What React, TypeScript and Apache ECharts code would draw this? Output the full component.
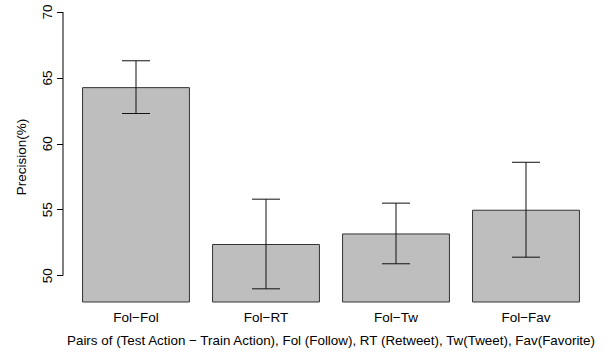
import React, { useEffect, useRef } from "react";
import * as echarts from "echarts";

const categories = ["Fol−Fol", "Fol−RT", "Fol−Tw", "Fol−Fav"];
const precision = [64.3, 52.4, 53.2, 55.0];
const errLow = [62.3, 49.0, 50.9, 51.4];
const errHigh = [66.3, 55.8, 55.5, 58.6];
const yTicks = [50, 55, 60, 65, 70];

const FONT = "'Liberation Sans', Arial, Helvetica, sans-serif";
const FS = 13.5;
const GRID_LEFT = 71;
const AXIS_OFFSET = 8;

export default function App() {
  const ref = useRef<HTMLDivElement>(null);
  useEffect(() => {
    if (!ref.current) return;
    const chart = echarts.init(ref.current, undefined, { renderer: "svg" });
    const errData = categories.map((_, i) => [i, errLow[i], errHigh[i]]);
    chart.setOption({
      animation: false,
      backgroundColor: "#ffffff",
      textStyle: { fontFamily: FONT },
      grid: { left: GRID_LEFT, right: 24, top: 12, bottom: 49.6 },
      xAxis: {
        type: "category",
        data: categories,
        axisLine: { show: false },
        axisTick: { show: false },
        axisLabel: { color: "#000", fontSize: FS, margin: 8, fontFamily: FONT },
        name: "Pairs of (Test Action − Train Action), Fol (Follow), RT (Retweet), Tw(Tweet), Fav(Favorite)",
        nameLocation: "middle",
        nameGap: 32,
        nameTextStyle: { color: "#000", fontSize: 13.4, fontFamily: FONT },
      },
      yAxis: {
        type: "value",
        min: 48,
        max: 70,
        offset: AXIS_OFFSET,
        splitLine: { show: false },
        axisLine: { show: false },
        axisTick: {
          show: true,
          length: 6,
          customValues: yTicks,
          lineStyle: { color: "#000", width: 1 },
        },
        axisLabel: {
          customValues: yTicks,
          rotate: 90,
          color: "#000",
          fontSize: FS,
          margin: 9,
          fontFamily: FONT,
        },
        name: "Precision(%)",
        nameLocation: "middle",
        nameRotate: 90,
        nameGap: 35,
        nameTextStyle: { color: "#000", fontSize: FS, fontFamily: FONT },
      },
      series: [
        {
          type: "bar",
          data: precision,
          barCategoryGap: "17%",
          itemStyle: { color: "#BEBEBE", borderColor: "#333", borderWidth: 1 },
        },
        {
          type: "custom",
          data: errData,
          renderItem: (params: any, api: any) => {
            const x = api.value(0);
            const lo = api.coord([x, api.value(1)]);
            const hi = api.coord([x, api.value(2)]);
            const hw = 14;
            const style = { stroke: "#111", lineWidth: 1 };
            return {
              type: "group",
              children: [
                { type: "line", shape: { x1: hi[0], y1: hi[1], x2: lo[0], y2: lo[1] }, style },
                { type: "line", shape: { x1: hi[0] - hw, y1: hi[1], x2: hi[0] + hw, y2: hi[1] }, style },
                { type: "line", shape: { x1: lo[0] - hw, y1: lo[1], x2: lo[0] + hw, y2: lo[1] }, style },
              ],
            };
          },
          z: 10,
        },
      ],
    });
    const y50 = chart.convertToPixel({ yAxisIndex: 0 }, yTicks[0]) as number;
    const y70 = chart.convertToPixel({ yAxisIndex: 0 }, yTicks[yTicks.length - 1]) as number;
    const ax = GRID_LEFT - AXIS_OFFSET;
    chart.setOption({
      graphic: [
        {
          type: "line",
          shape: { x1: ax, y1: y50, x2: ax, y2: y70 },
          style: { stroke: "#000", lineWidth: 1 },
        },
      ],
    });
    return () => chart.dispose();
  }, []);
  return <div ref={ref} style={{ width: 615, height: 352, position: "absolute", left: 0, top: 0 }} />;
}
